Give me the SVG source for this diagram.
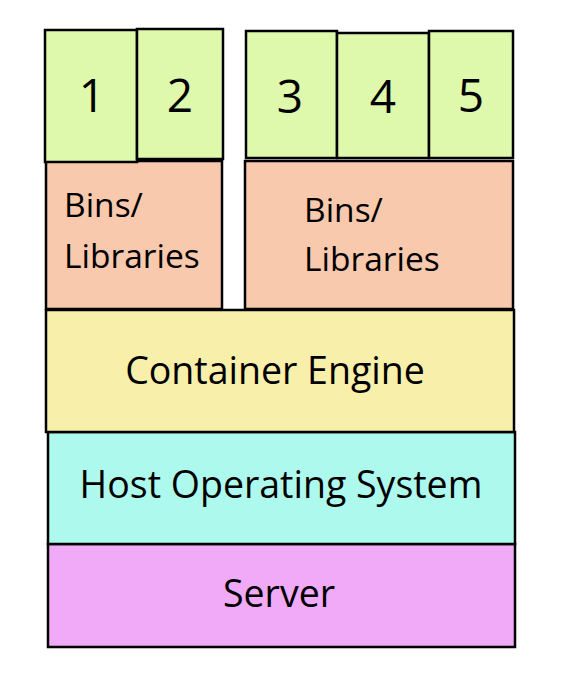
<svg xmlns="http://www.w3.org/2000/svg" width="565" height="677" viewBox="0 0 565 677">
<style>
rect{stroke:#000;stroke-width:2.5}
.c{fill:#DEF9AC}
.b{fill:#F8C9AC}
text{font-family:"Open Sans","Noto Sans",sans-serif;fill:#000}
.n{font-size:46px;text-anchor:middle}
.l{font-size:33.5px}
.m{font-size:37.5px;text-anchor:middle}
</style>
<rect width="565" height="677" fill="#fff" style="stroke:none"/>
<g id="server"><rect x="48" y="544" width="467" height="103" fill="#F0AAF8"/><text class="m" x="279" y="607">Server</text></g>
<g id="host-os"><rect x="48" y="432" width="467" height="112" fill="#AEF9EE"/><text class="m" x="281" y="498">Host Operating System</text></g>
<g id="container-engine"><rect x="46" y="310" width="468" height="122" fill="#F8EFAA"/><text class="m" x="275" y="384">Container Engine</text></g>
<g id="bins-left"><rect x="46" y="161" width="176" height="148" class="b"/><text class="l" x="64" y="217">Bins/</text><text class="l" x="64" y="268">Libraries</text></g>
<g id="bins-right"><rect x="245" y="161" width="268" height="148" class="b"/><text class="l" x="304" y="222">Bins/</text><text class="l" x="304" y="271">Libraries</text></g>
<g id="c1"><rect x="45" y="30" width="92" height="132" class="c"/><text class="n" x="92" y="112">1</text></g>
<g id="c2"><rect x="137" y="29" width="86" height="130" class="c"/><text class="n" x="180" y="112">2</text></g>
<g id="c3"><rect x="246" y="31" width="91" height="127" class="c"/><text class="n" x="290" y="113">3</text></g>
<g id="c4"><rect x="337" y="33" width="92" height="125" class="c"/><text class="n" x="383" y="113">4</text></g>
<g id="c5"><rect x="429" y="31" width="84" height="127" class="c"/><text class="n" x="471" y="112">5</text></g>
<g id="connectors"/>
</svg>
